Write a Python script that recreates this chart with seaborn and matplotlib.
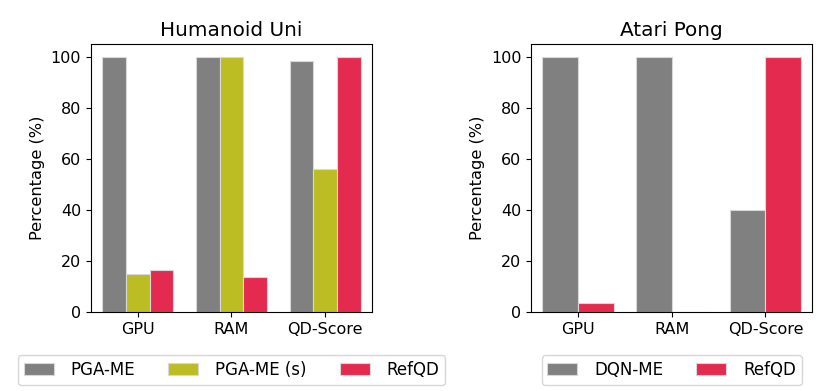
import pandas as pd
import matplotlib
matplotlib.use("Agg")
import matplotlib.pyplot as plt
import seaborn as sns

# Values
metrics = ["GPU", "RAM", "QD-Score"]

humanoid_pga = [100, 100, 98.4]
humanoid_pga_s = [15.0, 100, 56.1]
humanoid_refqd = [16.4, 13.6, 100]

pong_dqn = [100, 100, 40.1]
pong_refqd = [3.4, 0, 100]

colors = {"PGA-ME": "#808080", "PGA-ME (s)": "#bcbd22",
          "DQN-ME": "#808080", "RefQD": "#e52a50"}

plt.rcParams["font.family"] = ["DejaVu Sans"]

# long-form tables for seaborn
df_h = pd.DataFrame({
    "Metric": metrics * 3,
    "Method": ["PGA-ME"] * 3 + ["PGA-ME (s)"] * 3 + ["RefQD"] * 3,
    "Value": humanoid_pga + humanoid_pga_s + humanoid_refqd,
})
df_p = pd.DataFrame({
    "Metric": metrics * 2,
    "Method": ["DQN-ME"] * 3 + ["RefQD"] * 3,
    "Value": pong_dqn + pong_refqd,
})

fig = plt.figure(figsize=(8.3, 3.91), dpi=100)
ax1 = fig.add_axes([0.1096, 0.202, 0.3386, 0.685])
ax2 = fig.add_axes([0.640, 0.202, 0.3386, 0.685])

for ax, df, title in [(ax1, df_h, "Humanoid Uni"), (ax2, df_p, "Atari Pong")]:
    sns.barplot(data=df, x="Metric", y="Value", hue="Method", palette=colors,
                ax=ax, width=0.76, edgecolor="#d8d8d8", linewidth=0.8,
                saturation=1)
    ax.set_title(title, fontsize=14.4)
    ax.set_xlabel("")
    ax.set_ylabel("Percentage (%)", fontsize=11.7)
    ax.set_ylim(0, 105)
    ax.set_yticks([0, 20, 40, 60, 80, 100])
    ax.tick_params(labelsize=11.5)
    h, l = ax.get_legend_handles_labels()
    ax.get_legend().remove()
    ax.legend(h, l, loc="upper center", bbox_to_anchor=(0.5, -0.13),
              ncol=len(l), fontsize=12, frameon=True, handlelength=1.8,
              handletextpad=1.0, columnspacing=2.0, borderpad=0.35)

plt.savefig("out.png", dpi=100)
